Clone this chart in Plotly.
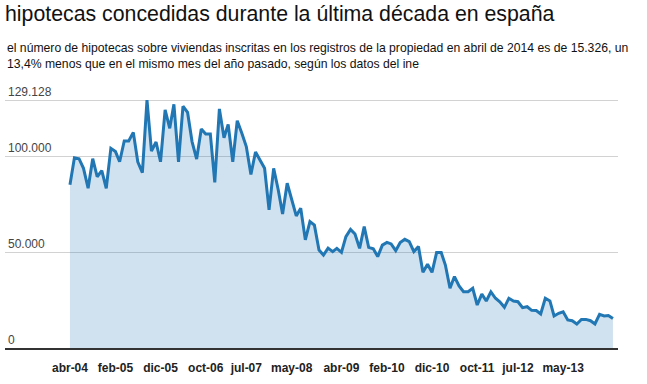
import pandas as pd
import plotly.graph_objects as go

# Monthly mortgage counts (thousands), April 2004 - April 2014
start_month = "2004-04-01"
values_k = [
    85.0, 99.1, 98.6, 93.6, 83.2, 98.6, 89.2, 92.4, 83.2, 104.0,
    102.3, 97.0, 107.8, 107.8, 112.3, 97.0, 91.3, 129.128, 102.6, 107.3,
    97.0, 124.0, 114.4, 126.9, 97.0, 125.9, 122.7, 107.5, 98.4, 114.1,
    111.5, 111.5, 86.3, 124.5, 109.5, 116.5, 97.0, 118.4, 111.8, 104.9,
    90.4, 102.1, 97.9, 93.6, 71.9, 93.6, 82.3, 69.8, 85.8, 77.1,
    68.8, 72.8, 56.3, 65.8, 64.0, 51.0, 48.4, 52.0, 50.2, 51.9,
    49.8, 58.0, 61.8, 59.4, 51.9, 63.2, 52.4, 51.7, 47.6, 53.6,
    55.0, 54.2, 50.7, 54.9, 56.6, 55.4, 50.2, 52.8, 39.4, 43.6,
    39.4, 49.7, 49.7, 43.2, 31.1, 37.2, 32.3, 29.3, 29.3, 31.1,
    22.4, 28.1, 24.5, 29.2, 25.9, 24.1, 21.2, 25.9, 24.5, 24.1,
    21.0, 21.5, 19.6, 19.5, 17.7, 25.9, 24.5, 16.7, 18.1, 18.9,
    14.6, 14.2, 12.5, 14.9, 14.9, 14.2, 12.5, 17.5, 16.7, 16.9,
    15.326,
]
values = [v * 1000 for v in values_k]
months = pd.date_range(start_month, periods=len(values), freq="MS")

x_tick_dates = ["2004-04-01", "2005-02-01", "2005-12-01", "2006-10-01", "2007-07-01",
                "2008-05-01", "2009-04-01", "2010-02-01", "2010-12-01", "2011-10-01",
                "2012-07-01", "2013-05-01"]
x_tick_labels = ["abr-04", "feb-05", "dic-05", "oct-06", "jul-07", "may-08",
                 "abr-09", "feb-10", "dic-10", "oct-11", "jul-12", "may-13"]
y_tick_vals = [0, 50000, 100000, 129128]
y_tick_labels = ["0", "50.000", "100.000", "129.128"]

title = "hipotecas concedidas durante la última década en españa"
subtitle = ("el número de hipotecas sobre viviendas inscritas en los registros de la propiedad "
            "en abril de 2014 es de 15.326, un<br>13,4% menos que en el mismo mes del año pasado, "
            "según los datos del ine")

FONT = "Liberation Sans, Arial, sans-serif"

TOP = 84
BOTTOM_Y = 348
PX_PER_UNIT = 1.92 / 1000

fig = go.Figure()
fig.add_trace(go.Scatter(
    x=months, y=values, mode="lines",
    line=dict(color="rgb(33,118,180)", width=3),
    fill="tozeroy", fillcolor="rgba(31,119,180,0.21)",
    hoverinfo="x+y", showlegend=False,
))

fig.update_layout(
    width=647, height=384,
    margin=dict(l=5, r=29, t=TOP, b=384 - BOTTOM_Y, autoexpand=False),
    paper_bgcolor="white", plot_bgcolor="white",
    font=dict(family=FONT, color="#222"),
    title=dict(text=title, x=5 / 647, xref="container", xanchor="left",
               y=1 - 13.3 / 384, yref="container", yanchor="middle",
               font=dict(size=21.3, color="#111", family=FONT)),
    annotations=[dict(text=subtitle, xref="paper", yref="paper", x=0,
                      y=(BOTTOM_Y - 55.5) / (BOTTOM_Y - TOP),
                      xanchor="left", yanchor="middle", align="left", showarrow=False,
                      font=dict(size=12.2, color="#111", family=FONT))],
)
fig.update_xaxes(
    range=["2003-01-20", "2014-05-05"],
    tickvals=x_tick_dates, ticktext=x_tick_labels,
    tickfont=dict(size=12, color="#222", family=FONT, weight="bold"),
    showgrid=False, zeroline=False, ticks="",
    showline=True, linecolor="#333", linewidth=1.5,
    ticklabelstandoff=8, automargin=False,
)
fig.update_yaxes(
    range=[0, (BOTTOM_Y - TOP) / PX_PER_UNIT],
    tickvals=y_tick_vals, ticktext=y_tick_labels,
    tickfont=dict(size=12, color="#444", family=FONT),
    ticklabelposition="inside top",
    showgrid=True, gridcolor="#d2d2d2", gridwidth=1,
    zeroline=False, ticks="", automargin=False,
)

fig.write_html("out.html", config={"displayModeBar": False},
               post_script="document.body.style.margin='0';")
